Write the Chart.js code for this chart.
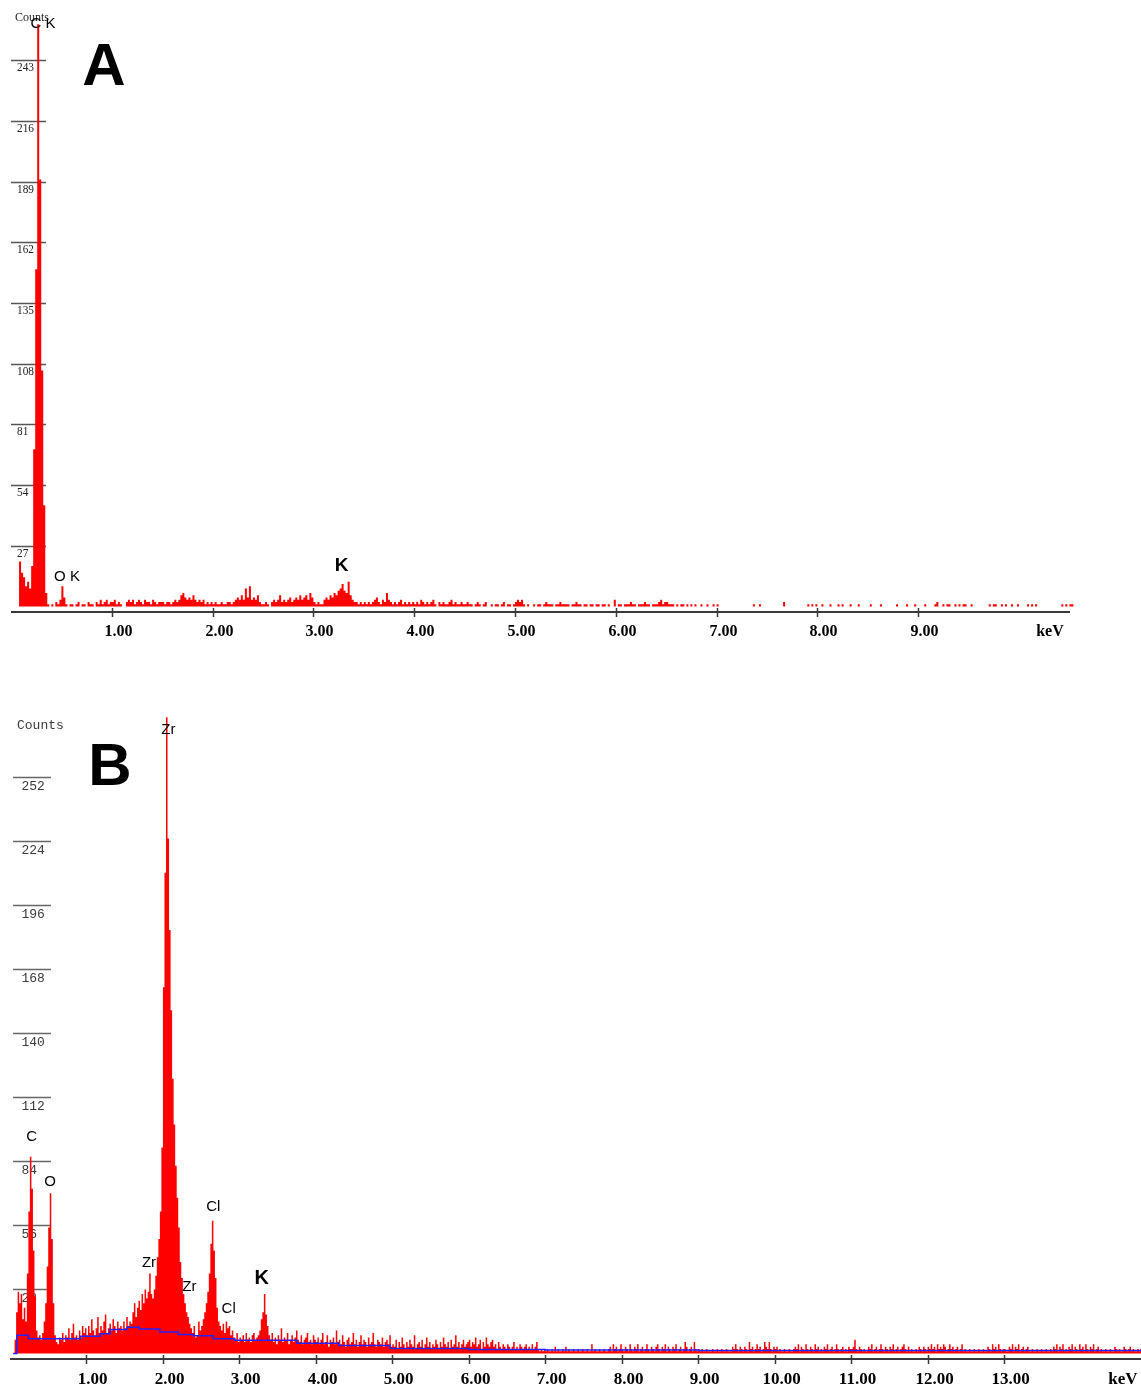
<!DOCTYPE html>
<html>
<head>
<meta charset="utf-8">
<title>EDS spectra A / B</title>
<script src="https://cdn.jsdelivr.net/npm/chart.js@4/dist/chart.umd.min.js"></script>
<style>
  html, body { margin: 0; padding: 0; background: #fff; }
  body { width: 1141px; height: 1387px; position: relative; overflow: hidden; }
  canvas { position: absolute; left: 0; }
</style>
</head>
<body>
<canvas id="ca" width="1141" height="650" style="top:0"></canvas>
<canvas id="cb" width="1141" height="737" style="top:650px"></canvas>
<script>
/* ---- DATA --------------------------------------------------- */
const STEP = 0.02; // keV per channel

// spectrum A, counts per 0.02 keV channel, one line = 0.2 keV
const A_COUNTS = [
  0,0,0,0,20,15,13,9,11,8,          18,70,150,259,190,105,45,6,1,0,
  1,0,2,1,3,9,4,1,0,1,              1,0,1,2,0,1,1,0,2,1,
  1,0,2,1,3,1,2,3,1,2,
  // 1 keV
  2,3,1,2,1,0,0,2,3,2,              3,1,2,3,2,1,3,2,2,1,
  3,2,1,2,2,2,1,2,2,1,              2,3,2,3,5,6,4,3,4,3,
  5,3,2,3,2,3,1,2,1,2,
  // 2 keV
  1,2,1,1,2,1,1,2,2,1,              2,3,4,3,5,3,8,4,9,3,
  4,3,5,2,1,1,2,1,0,2,              3,2,3,5,2,3,2,3,4,2,
  3,4,3,5,3,4,5,3,6,4,
  // 3 keV
  2,1,2,1,1,3,4,3,5,4,              6,5,7,8,10,7,6,11,5,3,
  2,2,1,2,1,2,1,2,1,2,              3,4,2,1,3,2,6,3,2,1,
  2,1,2,3,1,2,1,2,1,2,
  // 4 keV
  1,2,1,3,2,1,2,1,2,3,              1,0,2,1,2,1,1,2,3,1,
  2,1,1,2,1,1,2,1,1,0,              1,2,1,0,1,2,0,0,1,0,
  1,1,0,1,2,0,1,1,0,1,
  // 5 keV
  2,3,2,3,1,0,1,0,0,1,              0,1,1,0,1,2,1,1,1,0,
  1,1,2,1,1,1,1,0,1,1,              2,1,1,0,1,1,0,1,1,0,
  1,1,0,1,1,0,1,0,0,3,
  // 6 keV
  0,1,1,0,1,1,1,2,1,1,              0,1,1,1,2,1,1,0,1,1,
  1,2,3,1,2,2,1,1,1,0,              1,0,1,1,0,1,0,1,0,1,
  0,0,1,0,0,1,0,0,1,0,
  // 7 keV
  1,0,0,0,0,0,0,0,0,0,              0,0,0,0,0,0,0,0,1,0,
  0,1,0,0,0,0,0,0,0,0,              0,0,0,2,0,0,0,0,0,0,
  0,0,0,0,0,1,0,1,0,1,
  // 8 keV
  0,0,1,0,0,0,1,0,0,0,              1,0,1,0,0,0,1,0,0,0,
  1,0,0,0,0,0,1,0,0,0,              0,1,0,0,0,0,0,0,0,1,
  0,0,0,0,1,0,0,0,1,0,
  // 9 keV
  0,0,0,1,0,0,0,0,1,2,              0,0,1,0,1,1,0,0,1,0,
  1,0,1,1,0,0,1,0,0,0,              0,0,0,0,0,1,0,1,1,0,
  0,1,0,1,0,0,1,0,0,1,
  // 10 keV
  0,0,0,0,1,0,1,0,1,0,              0,0,0,0,0,0,0,0,0,0,
  0,1,0,1,0,1,1,0
];

// spectrum B, counts per 0.02 keV channel
const B_COUNTS = [
  0,0,0,6,18,27,22,26,15,20,        14,35,62,86,72,45,25,10,7,8,
  6,9,14,22,38,55,70,50,22,8,       5,4,7,6,9,5,8,7,11,6,
  9,13,7,8,6,10,7,12,9,11,
  // 1 keV
  8,12,9,15,10,8,11,16,9,12,        10,14,17,9,11,13,10,15,12,9,
  14,11,12,10,14,11,16,12,14,13,    18,22,16,20,23,19,26,22,28,24,
  27,35,26,24,28,34,42,50,62,90,
  // 2 keV
  160,210,278,225,185,150,120,100,82,68,  55,40,33,26,22,18,16,13,11,9,
  12,7,8,14,10,12,15,18,22,27,      35,48,58,45,33,20,14,12,10,13,
  9,14,11,12,8,10,7,6,9,5,
  // 3 keV
  7,6,8,5,9,6,7,5,8,9,              6,7,8,10,15,18,26,17,12,8,
  6,9,5,7,4,8,6,11,5,7,             6,9,4,6,8,5,7,10,6,5,
  8,4,6,7,9,5,6,4,8,6,
  // 4 keV
  5,7,4,6,9,4,5,8,3,6,              5,7,4,10,5,6,4,8,5,3,
  6,7,4,5,9,4,6,3,5,8,              4,6,5,3,7,4,5,9,4,3,
  6,5,4,7,3,5,6,4,8,3,
  // 5 keV
  4,3,6,2,5,3,7,4,2,5,              3,6,4,3,8,2,4,5,3,6,
  2,4,7,3,5,2,4,3,6,4,              2,5,3,7,4,3,5,2,6,3,
  4,8,3,5,2,4,6,3,4,5,
  // 6 keV
  6,3,5,4,7,3,4,6,2,5,              3,7,4,3,5,6,3,4,2,5,
  3,2,4,3,2,4,3,2,3,5,              2,3,2,4,3,2,3,4,2,3,
  2,4,2,3,5,2,1,2,1,2,
  // 7 keV
  1,2,1,1,2,1,3,1,2,1,              1,2,1,3,1,2,1,1,2,1,
  1,2,1,1,2,1,1,2,1,1,              4,1,2,1,1,2,1,1,2,1,
  1,2,3,1,4,2,3,1,2,4,
  // 8 keV
  2,1,3,2,1,4,2,1,3,2,              4,1,2,3,1,2,4,2,1,3,
  2,1,3,4,2,1,3,2,4,1,              3,2,1,3,2,4,1,2,3,1,
  2,5,3,1,2,3,1,5,2,1,
  // 9 keV
  2,1,2,1,1,2,1,1,1,2,              1,1,2,1,1,2,1,1,2,1,
  1,1,3,2,4,2,1,3,2,1,              3,2,1,5,2,3,1,2,4,2,
  3,1,2,5,3,2,5,2,1,3,
  // 10 keV
  2,3,1,2,1,1,2,1,1,2,              1,1,2,3,2,4,1,3,2,1,
  4,2,1,3,2,1,4,2,3,1,              2,1,3,2,4,1,2,3,1,2,
  4,2,1,2,3,1,2,1,3,2,
  // 11 keV
  2,3,6,2,1,3,2,1,2,1,              1,3,2,4,1,2,3,1,2,4,
  2,1,3,2,1,3,2,4,1,2,              3,1,2,3,4,2,1,3,1,2,
  1,1,2,1,3,2,1,3,2,1,
  // 12 keV
  3,2,4,2,3,1,4,2,3,2,              4,3,1,2,4,2,3,1,2,3,
  1,2,4,1,2,1,1,2,1,1,              2,1,1,2,1,1,2,1,1,3,
  2,1,4,2,3,1,4,2,1,2,
  // 13 keV
  2,1,1,3,2,4,1,3,2,4,              1,2,3,1,2,3,1,1,2,1,
  1,2,1,1,2,1,1,2,1,1,              2,1,3,2,4,1,3,2,4,1,
  2,1,3,2,4,1,3,2,1,4,
  // 14 keV
  2,3,1,4,2,1,3,2,4,1,              2,3,1,2,1,1,2,1,1,2,
  1,1,3,2,1,2,1,1,3,2,              1,2,3,1,2,1,1,2,1,2
];

// fitted background (blue step line) in B
const B_BG_KEV    = [0.04, 0.09, 0.24, 0.92, 1.18, 1.31, 1.53, 1.69, 1.96, 2.20, 2.40, 2.66, 2.94, 3.75, 4.30, 4.97, 6.00, 7.00, 9.00, 14.79];
const B_BG_COUNTS = [0,    8,    6.4,  7.5,  8.6,  10.5, 11.5, 10.7, 9.4,  8.3,  7.8,  6.5,  5.8,  4.5,  3.5,  2.2,  1.8,  1.5,  1.3,  1.2];

const A_YTICKS = [27, 54, 81, 108, 135, 162, 189, 216, 243];
const B_YTICKS = [28, 56, 84, 112, 140, 168, 196, 224, 252];
const A_XTICKS = [1, 2, 3, 4, 5, 6, 7, 8, 9];
const B_XTICKS = [1, 2, 3, 4, 5, 6, 7, 8, 9, 10, 11, 12, 13];

/* ---- HELPERS ------------------------------------------------ */
const toPoints = counts => counts.map((c, i) => ({ x: i * STEP + STEP / 2, y: c }));
const SANS = '"Liberation Sans", Arial, sans-serif';
const SERIF = '"Liberation Serif", "Times New Roman", serif';
const MONO = '"Liberation Mono", "Courier New", monospace';

function decor(o) {
  return {
    id: 'decor',
    beforeDatasetsDraw(chart) {
      const { ctx } = chart;
      const y = chart.scales.y;
      ctx.save();
      ctx.textBaseline = 'middle';
      ctx.textAlign = 'left';
      o.yTicks.forEach(v => {
        const py = Math.round(y.getPixelForValue(v)) + 0.5;
        ctx.strokeStyle = o.tickColor;
        ctx.lineWidth = 1.5;
        ctx.beginPath();
        ctx.moveTo(o.tickX[0], py);
        ctx.lineTo(o.tickX[1], py);
        ctx.stroke();
        ctx.fillStyle = o.tickTextColor;
        ctx.font = o.tickFont;
        ctx.save();
        ctx.translate(o.labelX, py + o.labelDy);
        ctx.scale(o.squeeze, 1);
        ctx.fillText(String(v), 0, 0);
        ctx.restore();
      });
      ctx.font = o.titleFont;
      ctx.fillStyle = o.tickTextColor;
      ctx.fillText('Counts', o.titlePos[0], o.titlePos[1]);
      ctx.restore();
    },
    afterDatasetsDraw(chart) {
      const { ctx, chartArea } = chart;
      const x = chart.scales.x, y = chart.scales.y;
      const ay = chartArea.bottom;
      ctx.save();
      // x axis
      ctx.strokeStyle = '#3a3a3a';
      ctx.lineWidth = 2;
      ctx.beginPath();
      ctx.moveTo(chartArea.left, ay);
      ctx.lineTo(o.axisEnd, ay);
      ctx.stroke();
      ctx.lineWidth = 1.5;
      ctx.fillStyle = '#000';
      ctx.font = o.xFont;
      ctx.textAlign = 'center';
      ctx.textBaseline = 'middle';
      o.xTicks.forEach(k => {
        const px = Math.round(x.getPixelForValue(k)) + 0.5;
        ctx.beginPath();
        ctx.moveTo(px, ay - 4);
        ctx.lineTo(px, ay + 5);
        ctx.stroke();
        ctx.fillText(k.toFixed(2), px + 6, ay + o.xLabelDy);
      });
      ctx.fillText('keV', o.kevX, ay + o.xLabelDy);
      // peak labels
      o.notes.forEach(n => {
        ctx.font = n.font || o.noteFont;
        ctx.fillText(n.text, x.getPixelForValue(n.kev), y.getPixelForValue(n.cnt));
      });
      // panel letter
      ctx.font = 'bold 60px ' + SANS;
      ctx.fillText(o.panel, o.panelPos[0], o.panelPos[1]);
      ctx.restore();
    }
  };
}

function baseOptions(pad, xMax, yMin, yMax) {
  return {
    responsive: false,
    animation: false,
    devicePixelRatio: 1,
    layout: { padding: pad },
    scales: {
      x: { type: 'linear', min: 0, max: xMax, display: false },
      y: { min: yMin, max: yMax, display: false }
    },
    plugins: { legend: { display: false }, tooltip: { enabled: false } }
  };
}

/* ---- CHART A ------------------------------------------------ */
new Chart(document.getElementById('ca'), {
  type: 'line',
  data: {
    datasets: [{
      data: toPoints(A_COUNTS),
      stepped: 'middle',
      fill: 'origin',
      backgroundColor: '#ff0000',
      borderColor: 'rgba(0,0,0,0)',
      borderWidth: 0,
      pointRadius: 0
    }]
  },
  // 0 keV at x=11, 100.8 px/keV; 0 counts at y=606.5, 2.248 px/count
  options: baseOptions({ left: 11, right: 1141 - (11 + 10.55 * 100.8), top: 0, bottom: 38 }, 10.55, -2.45, 269.8),
  plugins: [decor({
    yTicks: A_YTICKS, tickX: [11, 46], tickColor: '#555', tickTextColor: '#222',
    tickFont: '13px ' + SERIF, labelX: 17, labelDy: 7.5, squeeze: 0.87,
    titleFont: '12px ' + SERIF, titlePos: [15, 18],
    xTicks: A_XTICKS, xFont: 'bold 16px ' + SERIF, xLabelDy: 19.5, axisEnd: 1070, kevX: 1050,
    noteFont: '15px ' + SANS,
    notes: [
      { text: 'C K', kev: 0.317, cnt: 259 },
      { text: 'O K', kev: 0.556, cnt: 13 },
      { text: 'K', kev: 3.279, cnt: 18, font: 'bold 19px ' + SANS }
    ],
    panel: 'A', panelPos: [104, 68]
  })]
});

/* ---- CHART B ------------------------------------------------ */
new Chart(document.getElementById('cb'), {
  type: 'line',
  data: {
    datasets: [{
      data: B_BG_KEV.map((k, i) => ({ x: k, y: B_BG_COUNTS[i] })),
      stepped: true,
      fill: false,
      borderColor: '#2222ff',
      borderWidth: 1.5,
      pointRadius: 0,
      order: 0
    }, {
      data: toPoints(B_COUNTS),
      stepped: 'middle',
      fill: 'origin',
      backgroundColor: '#ff0000',
      borderColor: 'rgba(0,0,0,0)',
      borderWidth: 0,
      pointRadius: 0,
      order: 1
    }]
  },
  // 0 keV at x=10, 76.46 px/keV; 0 counts at page y=1353.5, 2.289 px/count
  options: baseOptions({ left: 10, right: 0, top: 0, bottom: 28 }, 14.79, -2.40, 307.35),
  plugins: [decor({
    yTicks: B_YTICKS, tickX: [13, 51], tickColor: '#666', tickTextColor: '#3a3a3a',
    tickFont: '13px ' + MONO, labelX: 21.5, labelDy: 9, squeeze: 1,
    titleFont: '13px ' + MONO, titlePos: [17, 76],
    xTicks: B_XTICKS, xFont: 'bold 17px ' + SERIF, xLabelDy: 20.5, axisEnd: 1141, kevX: 1123,
    noteFont: '15px ' + SANS,
    notes: [
      { text: 'C', kev: 0.284, cnt: 94.5 },
      { text: 'O', kev: 0.523, cnt: 75 },
      { text: 'Zr', kev: 2.07, cnt: 272.4 },
      { text: 'Zr', kev: 1.818, cnt: 39.4 },
      { text: 'Zr', kev: 2.345, cnt: 29.2 },
      { text: 'Cl', kev: 2.659, cnt: 64.1 },
      { text: 'Cl', kev: 2.86, cnt: 19.7 },
      { text: 'K', kev: 3.292, cnt: 32.9, font: 'bold 20px ' + SANS }
    ],
    panel: 'B', panelPos: [110, 118]
  })]
});
</script>
</body>
</html>
